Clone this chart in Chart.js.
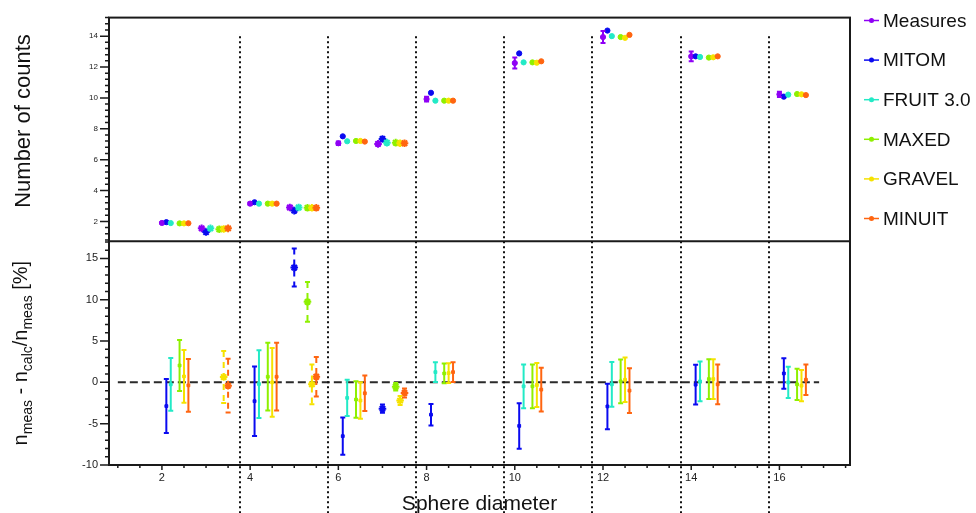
<!DOCTYPE html>
<html>
<head>
<meta charset="utf-8">
<script src="https://cdn.jsdelivr.net/npm/chart.js@4.4.1/dist/chart.umd.min.js"></script>
<style>
    html, body { margin: 0; padding: 0; background: #fff; }
    #grafico { display: block; }
</style>
</head>
<body>
<canvas id="grafico" width="976" height="513"></canvas>
<script>
// sphere diameters; the asterisk set is a second configuration shown next to the first three spheres
const spheres = [2, 4, 6, 8, 10, 12, 14, 16];
const starSpheres = [2, 4, 6];

// top panel: number of counts
const measCounts   = [1.90, 3.15, 7.06, 9.92, 12.26, 13.94, 12.69, 10.23];
const measErr      = [0.04, 0.07, 0.12, 0.15, 0.35, 0.39, 0.32, 0.17];
const mitomCounts  = [1.95, 3.24, 7.51, 10.33, 12.88, 14.36, 12.69, 10.08];
const fruitCounts  = [1.89, 3.15, 7.19, 9.82, 12.30, 14.00, 12.65, 10.21];
const maxedCounts  = [1.87, 3.15, 7.21, 9.82, 12.30, 13.94, 12.61, 10.25];
const gravelCounts = [1.87, 3.15, 7.21, 9.82, 12.28, 13.89, 12.63, 10.23];
const minuitCounts = [1.88, 3.15, 7.17, 9.82, 12.37, 14.08, 12.69, 10.18];

const measStarCounts   = [1.55, 2.90, 7.02];
const measStarErr      = [0.04, 0.07, 0.10];
const mitomStarCounts  = [1.31, 2.70, 7.34];
const fruitStarCounts  = [1.55, 2.90, 7.10];
const maxedStarCounts  = [1.49, 2.88, 7.10];
const gravelStarCounts = [1.51, 2.88, 7.06];
const minuitStarCounts = [1.55, 2.88, 7.06];

// bottom panel: (n_meas - n_calc) / n_meas in %
const mitomRes     = [-2.87, -2.28, -6.51, -3.91, -5.27, -2.91, -0.28, 1.08];
const mitomResErr  = [3.27, 4.20, 2.25, 1.30, 2.75, 2.75, 2.40, 1.85];
const fruitRes     = [-0.24, -0.20, -1.88, 1.24, -0.48, -0.24, 0.12, 0.00];
const fruitResErr  = [3.20, 4.10, 2.20, 1.20, 2.65, 2.70, 2.40, 1.90];
const maxedRes     = [2.04, 0.68, -2.08, 1.08, -0.48, 0.12, 0.40, -0.24];
const maxedResErr  = [3.10, 4.10, 2.20, 1.20, 2.65, 2.65, 2.40, 1.90];
const gravelRes    = [0.72, 0.00, -2.20, 1.12, -0.32, 0.32, 0.40, -0.40];
const gravelResErr = [3.20, 4.15, 2.20, 1.20, 2.65, 2.70, 2.40, 1.90];
const minuitRes    = [-0.36, 0.68, -1.32, 1.24, -0.88, -1.00, -0.24, 0.32];
const minuitResErr = [3.20, 4.10, 2.15, 1.20, 2.65, 2.70, 2.40, 1.85];

const mitomStarRes     = [null, 13.89, -3.19];
const mitomStarResErr  = [null, 2.30, 0.50];
const fruitStarRes     = [null, null, null];
const fruitStarResErr  = [null, null, null];
const maxedStarRes     = [null, 9.74, -0.52];
const maxedStarResErr  = [null, 2.40, 0.45];
const gravelStarRes    = [0.64, -0.24, -2.20];
const gravelStarResErr = [3.15, 2.40, 0.55];
const minuitStarRes    = [-0.40, 0.68, -1.28];
const minuitStarResErr = [3.25, 2.40, 0.55];

// axes
const xTicks = [2, 4, 6, 8, 10, 12, 14, 16];
const yTopTicks = [2, 4, 6, 8, 10, 12, 14];
const yBotTicks = [-10, -5, 0, 5, 10, 15];
const separators = [3.76, 5.76, 7.76, 9.76, 11.76, 13.76, 15.76];
const zeroLine = [1.0, 16.9];

const FONT = "'Liberation Sans', Arial, Helvetica, sans-serif";

// x shift of each method inside a sphere group, extra shift for the asterisk group
const xShift = [0, 0.1, 0.2, 0.4, 0.5, 0.6];
const starShift = 0.9;

const series = [
    { name: 'Measures', color: '#8f00f5', counts: measCounts, countErr: measErr,
      starCounts: measStarCounts, starErr: measStarErr },
    { name: 'MITOM', color: '#0a0af0', counts: mitomCounts, starCounts: mitomStarCounts,
      res: mitomRes, resErr: mitomResErr, starRes: mitomStarRes, starResErr: mitomStarResErr },
    { name: 'FRUIT 3.0', color: '#22eac6', counts: fruitCounts, starCounts: fruitStarCounts,
      res: fruitRes, resErr: fruitResErr, starRes: fruitStarRes, starResErr: fruitStarResErr },
    { name: 'MAXED', color: '#8ef000', counts: maxedCounts, starCounts: maxedStarCounts,
      res: maxedRes, resErr: maxedResErr, starRes: maxedStarRes, starResErr: maxedStarResErr },
    { name: 'GRAVEL', color: '#f6e200', counts: gravelCounts, starCounts: gravelStarCounts,
      res: gravelRes, resErr: gravelResErr, starRes: gravelStarRes, starResErr: gravelStarResErr },
    { name: 'MINUIT', color: '#ff6510', counts: minuitCounts, starCounts: minuitStarCounts,
      res: minuitRes, resErr: minuitResErr, starRes: minuitStarRes, starResErr: minuitStarResErr }
];

function points(xs, ys, shift) {
    return xs.map((d, i) => ({ x: d + shift, y: ys[i] }));
}

const datasets = [];
series.forEach((s, k) => {
    const base = { borderColor: s.color, backgroundColor: s.color, order: 10 - k };
    datasets.push(Object.assign({}, base, {
        data: points(spheres, s.counts, xShift[k]), yAxisID: 'yTop',
        pointStyle: 'circle', pointRadius: 2.6, pointBorderWidth: 1, errors: s.countErr
    }));
    datasets.push(Object.assign({}, base, {
        data: points(starSpheres, s.starCounts, xShift[k] + starShift), yAxisID: 'yTop',
        pointStyle: 'star', pointRadius: 3.8, pointBorderWidth: 2, errors: s.starErr
    }));
    if (s.res) {
        datasets.push(Object.assign({}, base, {
            data: points(spheres, s.res, xShift[k]), yAxisID: 'yBot',
            pointStyle: 'rect', pointRadius: 2, pointBorderWidth: 1, errors: s.resErr
        }));
        datasets.push(Object.assign({}, base, {
            data: points(starSpheres, s.starRes, xShift[k] + starShift), yAxisID: 'yBot',
            pointStyle: 'star', pointRadius: 3.8, pointBorderWidth: 2, errors: s.starResErr, dashed: true
        }));
    }
});
datasets.push({
    type: 'line', yAxisID: 'yBot', order: 100,
    data: zeroLine.map(v => ({ x: v, y: 0 })),
    borderColor: '#2a2a2a', borderWidth: 2, borderDash: [8, 4], pointRadius: 0
});

// barras de erro
const errorBars = {
    id: 'errorBars',
    afterDatasetsDraw(chart) {
        const ctx = chart.ctx;
        const xs = chart.scales.x;
        chart.data.datasets.forEach(ds => {
            if (!ds.errors) return;
            const ys = chart.scales[ds.yAxisID];
            ctx.save();
            ctx.strokeStyle = ds.borderColor;
            ctx.lineWidth = 2;
            ds.data.forEach((p, j) => {
                const e = ds.errors[j];
                if (p.y == null || !e) return;
                const px = xs.getPixelForValue(p.x);
                const y1 = ys.getPixelForValue(p.y + e);
                const y2 = ys.getPixelForValue(p.y - e);
                ctx.setLineDash(ds.dashed ? [6, 5] : []);
                ctx.beginPath();
                ctx.moveTo(px, y1);
                ctx.lineTo(px, y2);
                ctx.stroke();
                ctx.setLineDash([]);
                ctx.beginPath();
                ctx.moveTo(px - 2.5, y1); ctx.lineTo(px + 2.5, y1);
                ctx.moveTo(px - 2.5, y2); ctx.lineTo(px + 2.5, y2);
                ctx.stroke();
            });
            ctx.restore();
        });
    }
};

// frames and tick marks
const frames = {
    id: 'frames',
    afterDatasetsDraw(chart) {
        const { ctx, chartArea: a } = chart;
        const top = chart.scales.yTop, bot = chart.scales.yBot, xs = chart.scales.x;
        ctx.save();
        ctx.strokeStyle = '#1a1a1a';
        ctx.lineWidth = 2;
        ctx.strokeRect(a.left, a.top, a.right - a.left, a.bottom - a.top);
        ctx.beginPath();
        ctx.moveTo(a.left, top.bottom);
        ctx.lineTo(a.right, top.bottom);
        ctx.stroke();

        ctx.lineWidth = 1.5;
        ctx.beginPath();
        const yTicks = (scale, step, majorStep) => {
            for (let k = Math.ceil(scale.min / step - 1e-6); k * step <= scale.max + 1e-6; k++) {
                const v = k * step;
                const major = Math.abs(v / majorStep - Math.round(v / majorStep)) < 1e-6;
                const py = scale.getPixelForValue(v);
                ctx.moveTo(a.left, py);
                ctx.lineTo(a.left - (major ? 9 : 4), py);
            }
        };
        yTicks(top, 0.4, 2);
        yTicks(bot, 1, 5);
        for (let k = Math.ceil(xs.min / 0.5); k * 0.5 <= xs.max; k++) {
            const v = k * 0.5;
            const px = xs.getPixelForValue(v);
            ctx.moveTo(px, a.bottom);
            ctx.lineTo(px, a.bottom + (v % 2 === 0 ? 5 : 3));
        }
        ctx.stroke();
        ctx.restore();
    }
};

// dotted separators, titles and legend
const overlay = {
    id: 'overlay',
    afterDraw(chart) {
        const { ctx, chartArea: a } = chart;
        const top = chart.scales.yTop, bot = chart.scales.yBot, xs = chart.scales.x;
        ctx.save();

        ctx.strokeStyle = '#111';
        ctx.lineWidth = 2;
        ctx.setLineDash([2, 3]);
        separators.forEach(v => {
            const px = Math.round(xs.getPixelForValue(v));
            ctx.beginPath();
            ctx.moveTo(px, top.getPixelForValue(14));
            ctx.lineTo(px, chart.height);
            ctx.stroke();
        });
        ctx.setLineDash([]);

        ctx.fillStyle = '#111';
        ctx.textBaseline = 'alphabetic';
        ctx.textAlign = 'center';
        ctx.font = '21px ' + FONT;
        ctx.fillText('Sphere diameter', (a.left + a.right) / 2, 510);

        ctx.save();
        ctx.translate(30, 121);
        ctx.rotate(-Math.PI / 2);
        ctx.font = '22px ' + FONT;
        ctx.fillText('Number of counts', 0, 0);
        ctx.restore();

        const parts = [['n', 0], ['meas', 1], [' - n', 0], ['calc', 1], ['/n', 0], ['meas', 1], [' [%]', 0]];
        const fontOf = sub => (sub ? '14px ' : '20px ') + FONT;
        let total = 0;
        parts.forEach(([t, sub]) => { ctx.font = fontOf(sub); total += ctx.measureText(t).width; });
        ctx.save();
        ctx.translate(27, (bot.top + bot.bottom) / 2);
        ctx.rotate(-Math.PI / 2);
        ctx.textAlign = 'left';
        let x = -total / 2;
        parts.forEach(([t, sub]) => {
            ctx.font = fontOf(sub);
            ctx.fillText(t, x, sub ? 5 : 0);
            x += ctx.measureText(t).width;
        });
        ctx.restore();

        ctx.font = '19px ' + FONT;
        ctx.textAlign = 'left';
        ctx.textBaseline = 'middle';
        series.forEach((s, i) => {
            const y = 20.5 + i * 39.6;
            ctx.strokeStyle = s.color;
            ctx.lineWidth = 1.5;
            ctx.beginPath();
            ctx.moveTo(864, y);
            ctx.lineTo(879, y);
            ctx.stroke();
            ctx.fillStyle = s.color;
            ctx.beginPath();
            ctx.arc(871.5, y, 2.5, 0, 2 * Math.PI);
            ctx.fill();
            ctx.fillStyle = '#111';
            ctx.fillText(s.name, 883, y + 1);
        });
        ctx.restore();
    }
};

const tickFont = size => ({ family: FONT, size: size });

new Chart(document.getElementById('grafico').getContext('2d'), {
    type: 'scatter',
    data: { datasets: datasets },
    options: {
        responsive: false,
        animation: false,
        layout: { padding: { top: 14, right: 126, left: 0, bottom: 0 } },
        plugins: { legend: { display: false }, tooltip: { enabled: false } },
        scales: {
            x: {
                type: 'linear', position: 'bottom', min: 0.8, max: 17.6,
                afterBuildTicks: s => { s.ticks = xTicks.map(v => ({ value: v })); },
                afterFit: s => { s.height = 48; },
                grid: { display: false, drawTicks: false },
                border: { display: false },
                ticks: { color: '#222', font: tickFont(11), padding: 6, maxRotation: 0, autoSkip: false }
            },
            yTop: {
                type: 'linear', position: 'left', stack: 'panels', stackWeight: 1, weight: 1,
                min: 0.71, max: 15.2,
                afterBuildTicks: s => { s.ticks = yTopTicks.map(v => ({ value: v })); },
                afterFit: s => { s.width = 109; },
                grid: { display: false, drawTicks: false },
                border: { display: false },
                ticks: { color: '#222', font: tickFont(8), padding: 11 }
            },
            yBot: {
                type: 'linear', position: 'left', stack: 'panels', stackWeight: 1, weight: 0,
                min: -10, max: 17.07,
                afterBuildTicks: s => { s.ticks = yBotTicks.map(v => ({ value: v })); },
                afterFit: s => { s.width = 109; },
                grid: { display: false, drawTicks: false },
                border: { display: false },
                ticks: { color: '#222', font: tickFont(11), padding: 11 }
            }
        }
    },
    plugins: [errorBars, frames, overlay]
});
</script>
</body>
</html>
